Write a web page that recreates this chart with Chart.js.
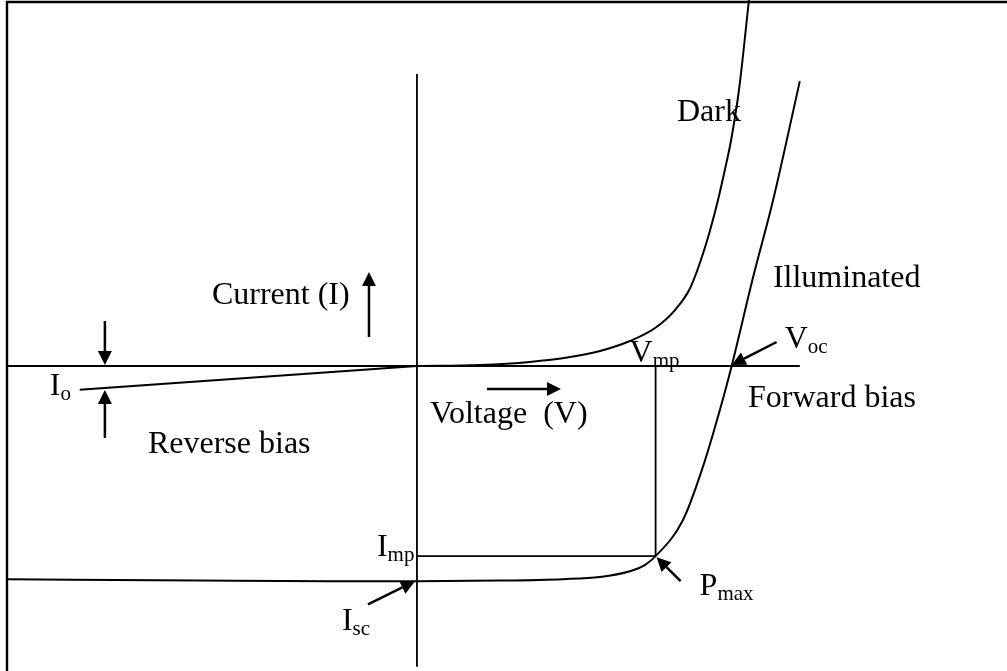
<!DOCTYPE html>
<html>
<head>
<meta charset="utf-8">
<title>Solar cell I-V characteristic</title>
<script src="https://cdn.jsdelivr.net/npm/chart.js@4/dist/chart.umd.min.js"></script>
<style>
  html, body { margin: 0; padding: 0; background: #fff; }
  #wrap { position: relative; width: 1007px; height: 671px; }
  canvas { display: block; }
</style>
</head>
<body>
<div id="wrap"><canvas id="iv" width="1007" height="671"></canvas></div>
<script>
// Axis extents (voltage V, current I, arbitrary units)
const vMin = -0.795, vMax = 1.125;
const iMin = -4.25,  iMax = 5.10;

// Characteristic points
const Voc = 0.600;   // open-circuit voltage
const Isc = -3.00;   // short-circuit current
const Vmp = 0.455;   // voltage at maximum power
const Imp = -2.65;   // current at maximum power

// Reverse saturation current branch (dark, reverse bias)
const ioV = [-0.643, 0];
const ioI = [-0.33, 0];

// Dark curve, forward bias
const darkV = [0, 0.120, 0.215, 0.292, 0.349, 0.406, 0.454, 0.492, 0.521, 0.542, 0.559, 0.574, 0.587, 0.599, 0.614, 0.633];
const darkI = [0, 0.014, 0.056, 0.125, 0.209, 0.348, 0.530, 0.780, 1.087, 1.491, 1.895, 2.313, 2.731, 3.149, 3.846, 5.100];

// Illuminated curve
const illumV = [-0.780, -0.414, -0.166, 0, 0.158, 0.278, 0.349, 0.406, 0.435, Vmp, 0.507, 0.545, 0.583, Voc, 0.641, 0.679, 0.730];
const illumI = [-2.97, -2.99, -3.00, Isc, -2.99, -2.97, -2.94, -2.86, -2.77, Imp, -2.15, -1.41, -0.47, 0, 1.24, 2.31, 3.97];

// Axis line extents
const hAxisV = [-0.780, 0.730];
const vAxisI = [4.07, -4.19];

const pts = (xs, ys) => xs.map((x, k) => ({ x: x, y: ys[k] }));

const FONT = '"Liberation Serif", "Times New Roman", Times, serif';
const BIG = 32, SUB = 21;

// Free text labels, positioned in data coordinates
const textLabels = [
  { t: 'Dark',          v: 0.4957,  i: 3.414 },
  { t: 'Illuminated',   v: 0.6787,  i: 1.101 },
  { t: 'Current (I)',   v: -0.3909, i: 0.864 },
  { t: 'Voltage  (V)',  v: 0.0248,  i: -0.794 },
  { t: 'Reverse bias',  v: -0.5129, i: -1.212 },
  { t: 'Forward bias',  v: 0.6311,  i: -0.571 }
];

// Labels for characteristic points: anchor in data units, offset in px
const markLabels = [
  { main: 'V', sub: 'mp',  v: Vmp,    i: 0,      dx: -26, dy: -4 },
  { main: 'V', sub: 'oc',  v: Voc,    i: 0,      dx: 53,  dy: -18 },
  { main: 'I', sub: 'mp',  v: 0,      i: Imp,    dx: -40, dy: 0 },
  { main: 'I', sub: 'sc',  v: 0,      i: Isc,    dx: -75, dy: 49 },
  { main: 'P', sub: 'max', v: Vmp,    i: Imp,    dx: 44,  dy: 39 },
  { main: 'I', sub: 'o',   v: ioV[0], i: ioI[0], dx: -30, dy: 5 }
];

// Arrows: tip anchored in data units, tail offset in px from the tip
const arrows = [
  { v: 0,      i: Isc,    tdx: -2, tdy: 0,  dx: -47, dy: 23 },   // Isc
  { v: Vmp,    i: Imp,    tdx: 1,  tdy: 1,  dx: 24,  dy: 24 },   // Pmax
  { v: Voc,    i: 0,      tdx: 0,  tdy: -1, dx: 45,  dy: -23 },  // Voc
  { v: -0.595, i: 0,      tdx: 0,  tdy: -1, dx: 0,   dy: -44 },  // Io, from above
  { v: -0.595, i: -0.305, tdx: 0,  tdy: 2,  dx: 0,   dy: 48 },   // Io, from below
  { v: -0.0915, i: 1.31,  tdx: 0,  tdy: 0,  dx: 0,   dy: 65 },   // current direction
  { v: 0.2745, i: -0.32,  tdx: 0,  tdy: 0,  dx: -74, dy: 0 }     // voltage direction
];

function drawArrow(ctx, x1, y1, x0, y0) {
  const ang = Math.atan2(y1 - y0, x1 - x0);
  const len = 14, half = 7;
  const bx = x1 - len * Math.cos(ang), by = y1 - len * Math.sin(ang);
  ctx.beginPath();
  ctx.moveTo(x0, y0);
  ctx.lineTo(bx, by);
  ctx.lineWidth = 2.5;
  ctx.strokeStyle = '#000';
  ctx.stroke();
  ctx.beginPath();
  ctx.moveTo(x1, y1);
  ctx.lineTo(bx + half * Math.sin(ang), by - half * Math.cos(ang));
  ctx.lineTo(bx - half * Math.sin(ang), by + half * Math.cos(ang));
  ctx.closePath();
  ctx.fillStyle = '#000';
  ctx.fill();
}

const decorations = {
  id: 'decorations',
  afterDatasetsDraw(chart) {
    const ctx = chart.ctx;
    const sx = chart.scales.x, sy = chart.scales.y;
    ctx.save();

    // frame
    ctx.strokeStyle = '#000';
    ctx.lineWidth = 2.4;
    ctx.beginPath();
    ctx.moveTo(7, 671);
    ctx.lineTo(7, 2);
    ctx.lineTo(1007, 2);
    ctx.stroke();

    // arrows
    arrows.forEach(a => {
      const x1 = sx.getPixelForValue(a.v) + a.tdx;
      const y1 = sy.getPixelForValue(a.i) + a.tdy;
      drawArrow(ctx, x1, y1, x1 + a.dx, y1 + a.dy);
    });

    // text
    ctx.fillStyle = '#000';
    ctx.textBaseline = 'alphabetic';
    ctx.textAlign = 'left';
    ctx.font = BIG + 'px ' + FONT;
    textLabels.forEach(l => {
      ctx.fillText(l.t, sx.getPixelForValue(l.v), sy.getPixelForValue(l.i));
    });
    markLabels.forEach(l => {
      const x = sx.getPixelForValue(l.v) + l.dx;
      const y = sy.getPixelForValue(l.i) + l.dy;
      ctx.font = BIG + 'px ' + FONT;
      ctx.fillText(l.main, x, y);
      const w = ctx.measureText(l.main).width;
      ctx.font = SUB + 'px ' + FONT;
      ctx.fillText(l.sub, x + w, y + 5);
    });
    ctx.restore();
  }
};

const lineDS = (data, extra) => Object.assign({
  data: data,
  showLine: true,
  borderColor: '#000',
  borderWidth: 2,
  pointRadius: 0,
  pointHoverRadius: 0,
  fill: false,
  tension: 0
}, extra || {});

new Chart(document.getElementById('iv'), {
  type: 'scatter',
  data: {
    datasets: [
      lineDS(pts(hAxisV, [0, 0]), { borderWidth: 1.8 }),
      lineDS(pts([0, 0], vAxisI), { borderWidth: 1.8 }),
      lineDS(pts([Vmp, Vmp], [0, Imp]), { borderWidth: 1.8 }),
      lineDS(pts([0, Vmp], [Imp, Imp]), { borderWidth: 1.8 }),
      lineDS(pts(ioV, ioI)),
      lineDS(pts(darkV, darkI), { cubicInterpolationMode: 'monotone' }),
      lineDS(pts(illumV, illumI), { cubicInterpolationMode: 'monotone' })
    ]
  },
  options: {
    responsive: false,
    animation: false,
    events: [],
    layout: { padding: 0 },
    plugins: { legend: { display: false }, tooltip: { enabled: false } },
    scales: {
      x: { type: 'linear', min: vMin, max: vMax, display: false },
      y: { type: 'linear', min: iMin, max: iMax, display: false }
    }
  },
  plugins: [decorations]
});
</script>
</body>
</html>
